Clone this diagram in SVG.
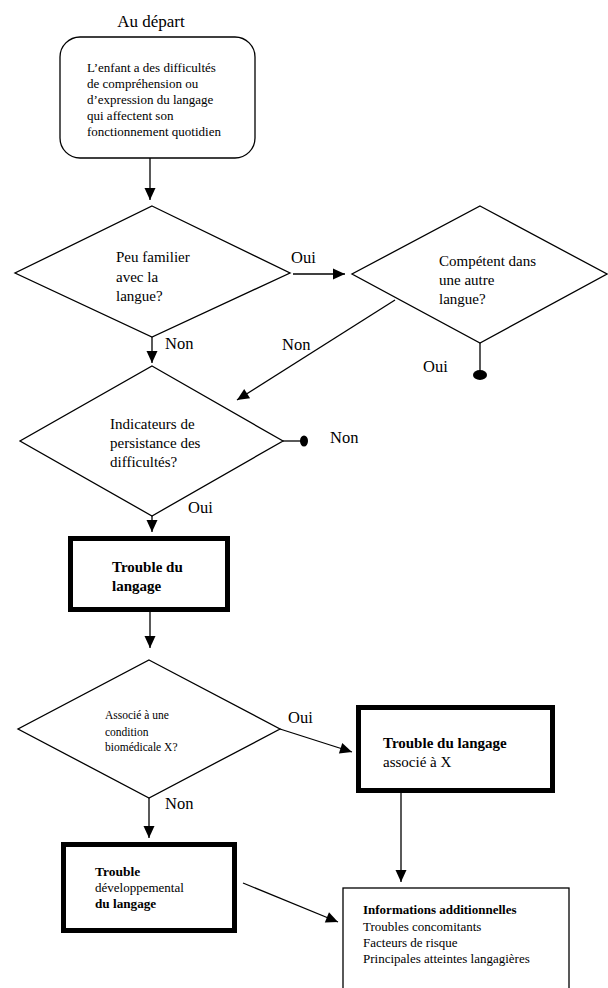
<svg xmlns="http://www.w3.org/2000/svg" width="608" height="988" viewBox="0 0 608 988">
<style>
text{fill:#000}
.lbl{font-size:16.5px}
.t13{font-size:13px}
.t15{font-size:15px}
.t11{font-size:11.5px}
.b{font-weight:bold}
.shape{fill:#fff;stroke:#000;stroke-width:1.3}
.thick{fill:#fff;stroke:#000;stroke-width:5}
.con{fill:none;stroke:#000;stroke-width:1.3}
</style>
<defs>
<marker id="arr" markerUnits="userSpaceOnUse" markerWidth="14" markerHeight="14" viewBox="0 0 14 14" refX="13" refY="7" orient="auto">
<path d="M1,1.5 L13,7 L1,12.5 Z" fill="#000"/>
</marker>
</defs>
<rect width="608" height="988" fill="#fff"/>
<g font-family="Liberation Serif, Times New Roman, DejaVu Serif, serif">
<text x="151" y="27" text-anchor="middle" style="font-size:17px">Au départ</text>

<g id="start">
<rect class="shape" x="60" y="37" width="195" height="121" rx="20" ry="20"/>
<text class="t13" x="87" y="72">L’enfant a des difficultés</text>
<text class="t13" x="87" y="88">de compréhension ou</text>
<text class="t13" x="87" y="104">d’expression du langage</text>
<text class="t13" x="87" y="120">qui affectent son</text>
<text class="t13" x="87" y="136">fonctionnement quotidien</text>
</g>

<g id="d1">
<polygon class="shape" points="152,206 290,273 152,337 15,273"/>
<text class="t15" x="116" y="262">Peu familier</text>
<text class="t15" x="116" y="282">avec la</text>
<text class="t15" x="116" y="301">langue?</text>
</g>

<g id="d2">
<polygon class="shape" points="480,206 607,274 480,343 352,274"/>
<text class="t15" x="439" y="266">Compétent dans</text>
<text class="t15" x="439" y="285">une autre</text>
<text class="t15" x="439" y="304">langue?</text>
</g>

<g id="d3">
<polygon class="shape" points="152,366 283,441 152,516 20,441"/>
<text class="t15" x="110" y="429">Indicateurs de</text>
<text class="t15" x="110" y="448">persistance des</text>
<text class="t15" x="110" y="467">difficultés?</text>
</g>

<g id="tl">
<rect class="thick" x="70.5" y="538.5" width="157" height="71"/>
<text class="t15 b" x="112" y="572">Trouble du</text>
<text class="t15 b" x="112" y="591">langage</text>
</g>

<g id="d4">
<polygon class="shape" points="149,660 280,729 149,798 18,729"/>
<text class="t11" x="105" y="719">Associé à une</text>
<text class="t11" x="105" y="736">condition</text>
<text class="t11" x="105" y="751">biomédicale X?</text>
</g>

<g id="tlx">
<rect class="thick" x="358.5" y="707.5" width="194" height="83"/>
<text class="t15 b" x="383" y="748">Trouble du langage</text>
<text class="t15" x="383" y="767">associé à X</text>
</g>

<g id="tdl">
<rect class="thick" x="63.5" y="844.5" width="171" height="86"/>
<text class="b" x="95" y="876" style="font-size:13.5px">Trouble</text>
<text x="95" y="892" style="font-size:13px">développemental</text>
<text class="b" x="95" y="908" style="font-size:13.2px">du langage</text>
</g>

<g id="info">
<rect class="shape" x="343" y="888" width="226" height="110"/>
<text class="t13 b" x="363" y="914">Informations additionnelles</text>
<text class="t13" x="363" y="931">Troubles concomitants</text>
<text class="t13" x="363" y="947">Facteurs de risque</text>
<text class="t13" x="363" y="963">Principales atteintes langagières</text>
</g>

<g id="connectors">
<line class="con" x1="150" y1="158" x2="150" y2="200" marker-end="url(#arr)"/>
<line class="con" x1="293" y1="274" x2="345" y2="274" marker-end="url(#arr)"/>
<text class="lbl" x="291" y="263">Oui</text>
<line class="con" x1="152" y1="337" x2="152" y2="363" marker-end="url(#arr)"/>
<text class="lbl" x="165" y="349">Non</text>
<line class="con" x1="395" y1="300" x2="237" y2="400" marker-end="url(#arr)"/>
<text class="lbl" x="282" y="350">Non</text>
<line class="con" x1="480" y1="343" x2="480" y2="372"/>
<ellipse cx="480" cy="375" rx="7" ry="5" fill="#000"/>
<text class="lbl" x="423" y="372">Oui</text>
<line class="con" x1="283" y1="441" x2="302" y2="441"/>
<ellipse cx="304" cy="441" rx="4" ry="5.5" fill="#000"/>
<text class="lbl" x="330" y="443">Non</text>
<line class="con" x1="152" y1="516" x2="152" y2="532" marker-end="url(#arr)"/>
<text class="lbl" x="188" y="513">Oui</text>
<line class="con" x1="150" y1="612" x2="150" y2="648" marker-end="url(#arr)"/>
<line class="con" x1="280" y1="729" x2="352" y2="752" marker-end="url(#arr)"/>
<text class="lbl" x="288" y="723">Oui</text>
<line class="con" x1="149" y1="798" x2="149" y2="838" marker-end="url(#arr)"/>
<text class="lbl" x="165" y="809">Non</text>
<line class="con" x1="401" y1="793" x2="401" y2="882" marker-end="url(#arr)"/>
<line class="con" x1="243" y1="883" x2="338" y2="922" marker-end="url(#arr)"/>
</g>
</g>
</svg>
